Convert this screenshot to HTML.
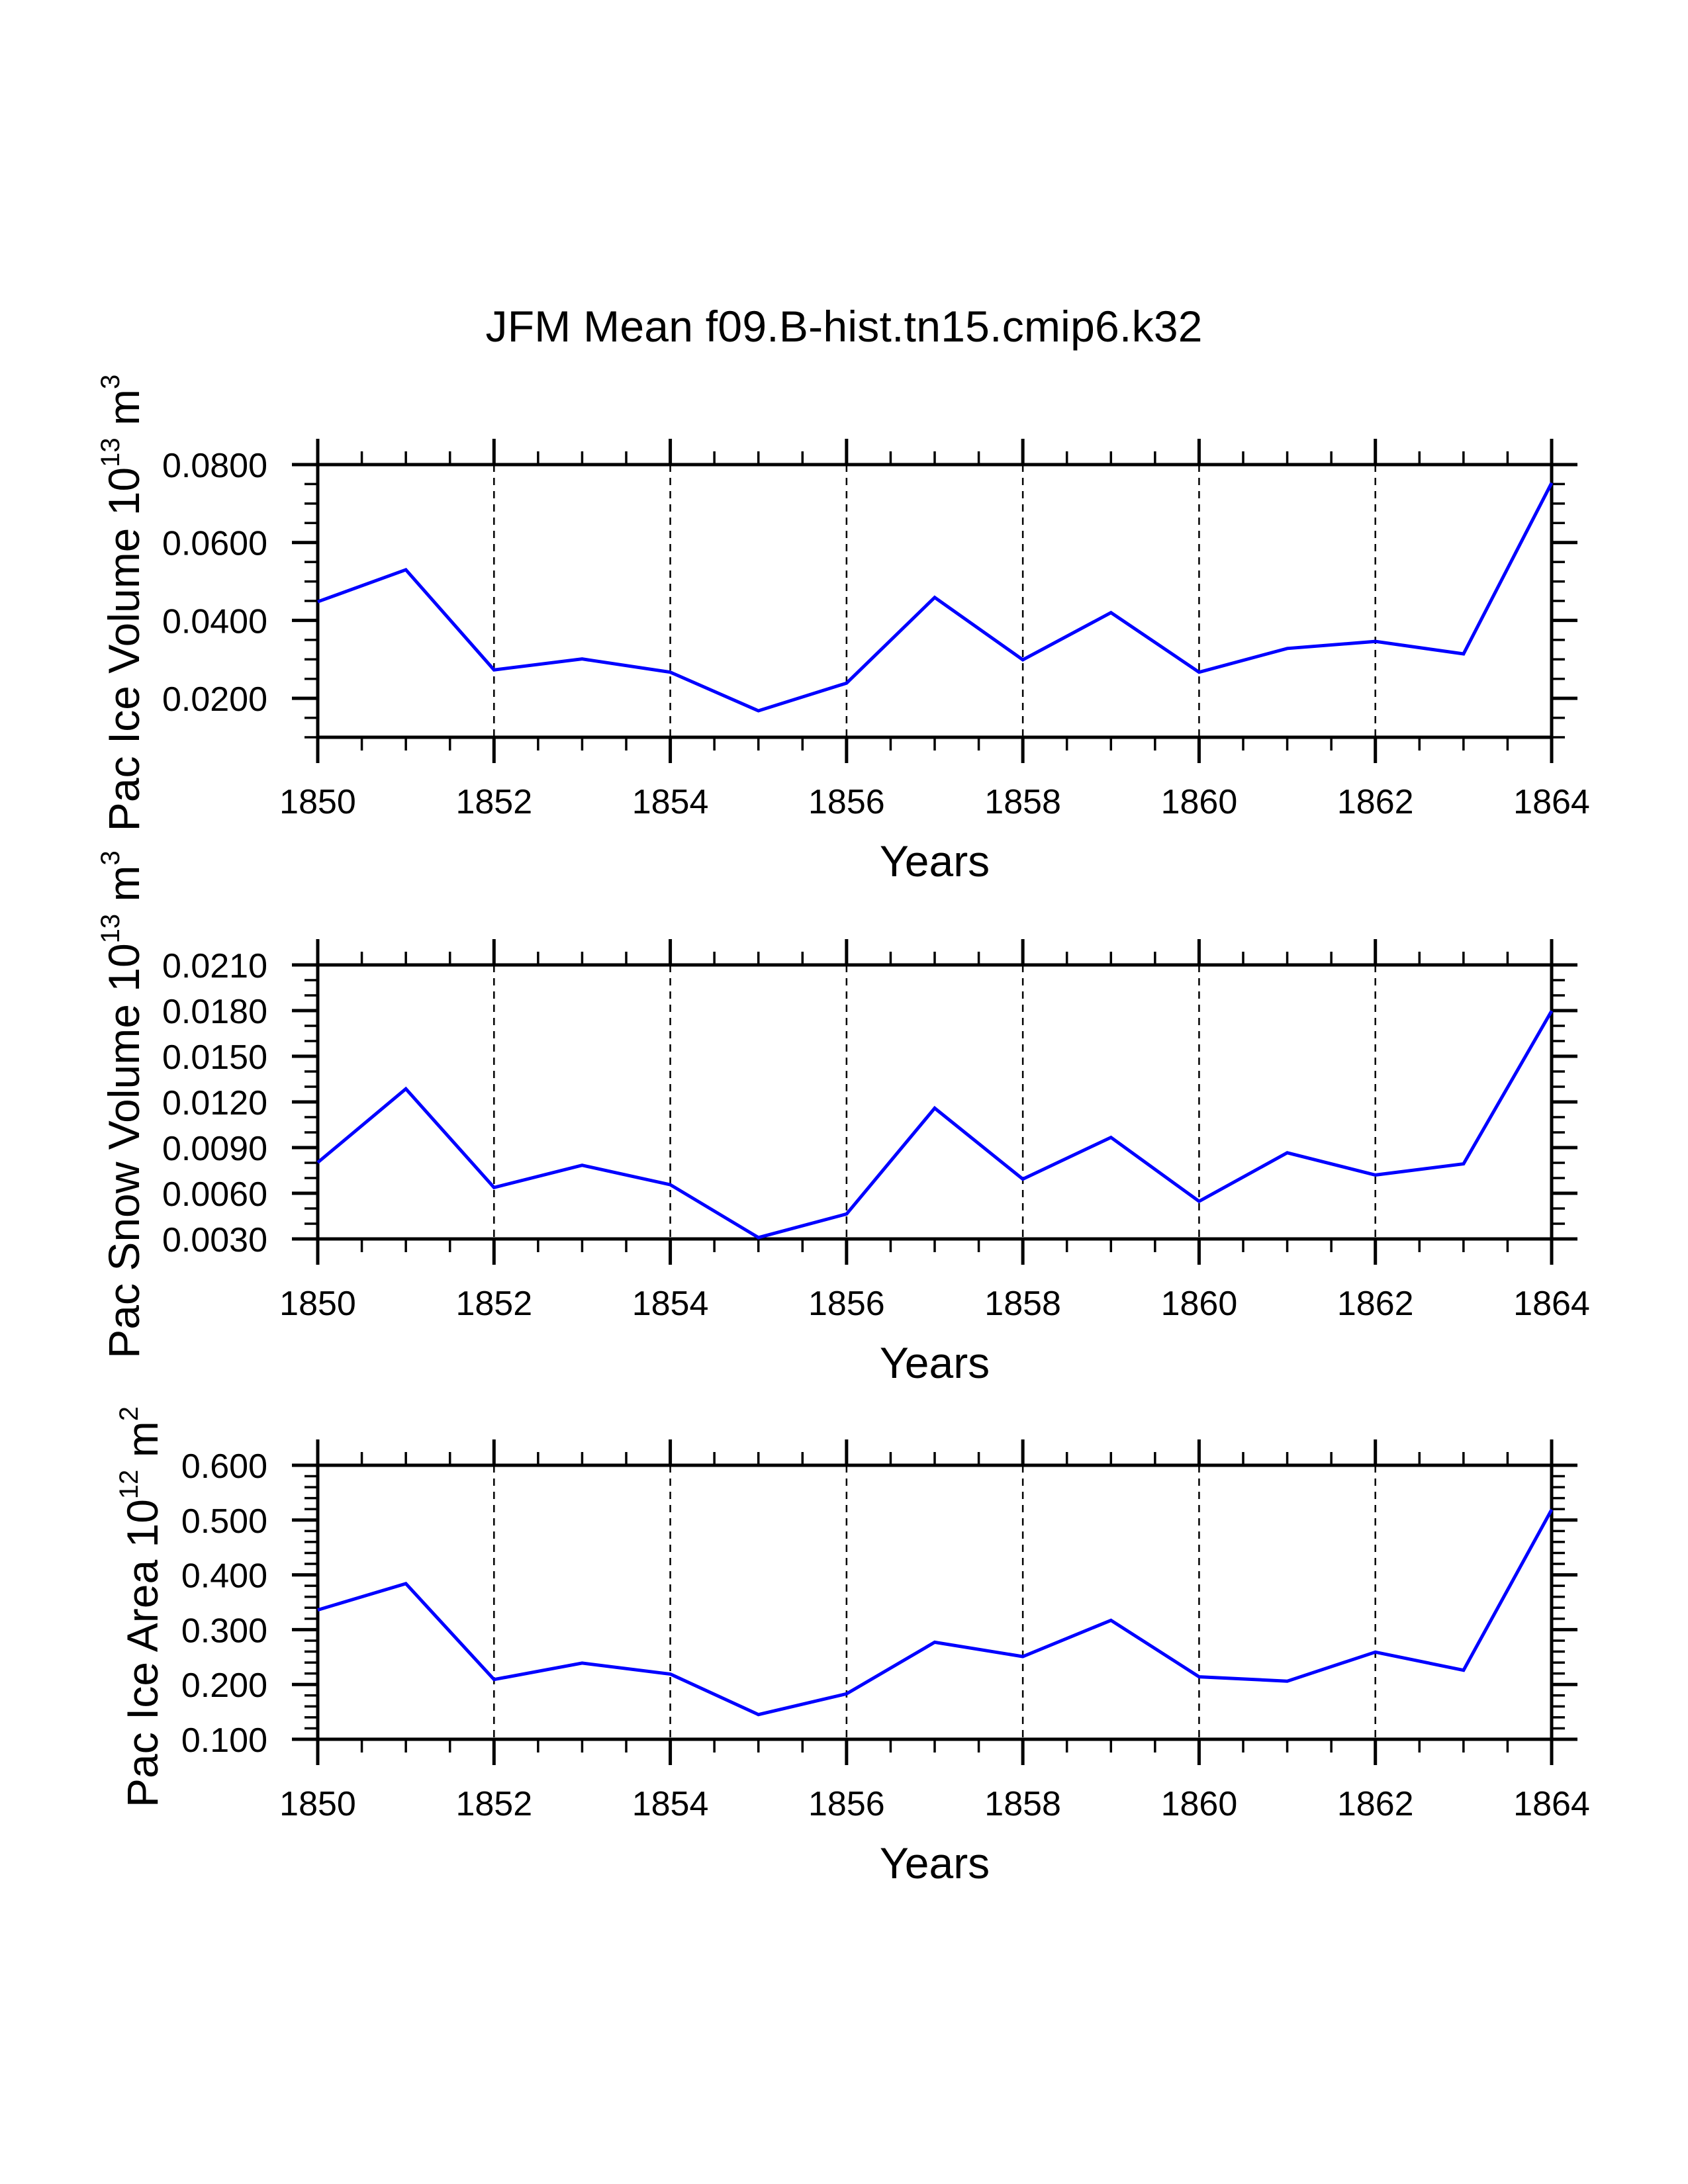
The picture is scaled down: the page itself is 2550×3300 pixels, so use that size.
<!DOCTYPE html>
<html><head><meta charset="utf-8"><style>
html,body{margin:0;padding:0;background:#fff;}
svg{display:block;font-family:"Liberation Sans",sans-serif;}
</style></head><body>
<svg id="fig" width="2550" height="3300" viewBox="0 0 2550 3300" xmlns="http://www.w3.org/2000/svg">
<rect width="2550" height="3300" fill="#fff"/>
<text x="1275" y="516" font-size="66" text-anchor="middle" textLength="1083">JFM Mean f09.B-hist.tn15.cmip6.k32</text>
</svg>
<script>
const years = [1850,1851,1852,1853,1854,1855,1856,1857,1858,1859,1860,1861,1862,1863,1864];
const xTickLabels = ["1850","1852","1854","1856","1858","1860","1862","1864"];
const iceVolume = [0.0448,0.0530,0.0273,0.0301,0.0267,0.0168,0.0239,0.0459,0.0299,0.0420,0.0267,0.0328,0.0346,0.0314,0.0753];
const snowVolume = [0.00802,0.01286,0.00638,0.00784,0.00656,0.00309,0.00464,0.01159,0.00693,0.00967,0.00547,0.00866,0.00720,0.00793,0.01798];
const iceArea = [0.336,0.384,0.209,0.239,0.219,0.145,0.183,0.277,0.251,0.317,0.214,0.206,0.259,0.226,0.519];
const iceVolumeTicks = ["0.0200","0.0400","0.0600","0.0800"];
const snowVolumeTicks = ["0.0030","0.0060","0.0090","0.0120","0.0150","0.0180","0.0210"];
const iceAreaTicks = ["0.100","0.200","0.300","0.400","0.500","0.600"];

const NS = "http://www.w3.org/2000/svg";
const svg = document.getElementById('fig');
function mk(tag, attrs, parent){
  const e = document.createElementNS(NS, tag);
  for (const k in attrs) e.setAttribute(k, attrs[k]);
  (parent||svg).appendChild(e);
  return e;
}
const X0 = 480, X1 = 2344, XMIN = 1850, XMAX = 1864;
function xScale(v){ return X0 + (v - XMIN) / (XMAX - XMIN) * (X1 - X0); }

function panel(cfg){
  const g = mk('g', {});
  
  
  const T = cfg.top, B = cfg.bottom;
  const yScale = v => B - (v - cfg.ymin) / (cfg.ymax - cfg.ymin) * (B - T);
  // grid lines
  for (let yr = 1852; yr <= 1862; yr += 2) {
    const l = mk('line', {x1:xScale(yr), x2:xScale(yr), y1:T, y2:B, stroke:'#000', 'stroke-width':2.5, 'stroke-dasharray':'11,9'}, g);
    
    
  }
  // x ticks
  for (let i = 0; i <= 28; i++) {
    const yr = XMIN + i * 0.5, x = xScale(yr);
    const major = (i % 4 === 0);
    const len = major ? 39 : 20;
    const w = major ? 5 : 3.5;
    const t1 = mk('line', {x1:x, x2:x, y1:B, y2:B+len, stroke:'#000', 'stroke-width':w}, g);
    
    
    const t2 = mk('line', {x1:x, x2:x, y1:T, y2:T-len, stroke:'#000', 'stroke-width':w}, g);
    
    
  }
  xTickLabels.forEach(lbl => {
    const t = mk('text', {x:xScale(+lbl), y:B+115, 'font-size':52, 'text-anchor':'middle'}, g);
    t.textContent = lbl;
    
    
  });
  // y ticks
  const nMinor = Math.round((cfg.ymax - cfg.ymin) / cfg.minor);
  for (let i = 0; i <= nMinor; i++) {
    const v = cfg.ymin + i * cfg.minor, y = yScale(v);
    const major = cfg.ticks.some(s => Math.abs(+s - v) < cfg.minor / 10);
    const len = major ? 39 : 20;
    const w = major ? 5 : 3.5;
    const a = mk('line', {x1:X0-len, x2:X0, y1:y, y2:y, stroke:'#000', 'stroke-width':w}, g);
    
    
    const b = mk('line', {x1:X1, x2:X1+len, y1:y, y2:y, stroke:'#000', 'stroke-width':w}, g);
    
    
  }
  cfg.ticks.forEach(lbl => {
    const t = mk('text', {x:404, y:yScale(+lbl)+19, 'font-size':52, 'text-anchor':'end'}, g);
    t.textContent = lbl;
    
    
  });
  // frame
  const fr = mk('rect', {x:X0, y:T, width:X1-X0, height:B-T, fill:'none', stroke:'#000', 'stroke-width':5}, g);
  
  
  // series
  const pts = years.map((yr, i) => xScale(yr).toFixed(1) + ',' + yScale(cfg.data[i]).toFixed(1)).join(' ');
  const pl = mk('polyline', {points:pts, fill:'none', stroke:'#0000ff', 'stroke-width':5, 'stroke-linejoin':'miter'}, g);
  
  
  // x title
  const xt = mk('text', {x:1412, y:B+210, 'font-size':66, 'text-anchor':'middle'}, g);
  xt.textContent = 'Years';
  
  
  // y title
  const yt = mk('text', {x:0, y:0, 'font-size':66, 'text-anchor':'middle', transform:'translate(' + cfg.ytx + ',' + cfg.ytc + ') rotate(-90)'}, g);
  
  
  const s1 = mk('tspan', {}, yt); s1.textContent = cfg.label + ' 10';
  const s2 = mk('tspan', {dy:-30, 'font-size':40}, yt); s2.textContent = cfg.exp;
  const s3 = mk('tspan', {dy:30}, yt); s3.textContent = ' m';
  const s4 = mk('tspan', {dy:-30, 'font-size':40}, yt); s4.textContent = cfg.unit;
}
panel({name:'ice-volume-panel', top:702, bottom:1114, ymin:0.01, ymax:0.08, minor:0.005, ticks:iceVolumeTicks, data:iceVolume, label:'Pac Ice Volume', exp:'13', unit:'3', ytx:210, ytc:911});
panel({name:'snow-volume-panel', top:1458, bottom:1872, ymin:0.003, ymax:0.021, minor:0.001, ticks:snowVolumeTicks, data:snowVolume, label:'Pac Snow Volume', exp:'13', unit:'3', ytx:210, ytc:1669});
panel({name:'ice-area-panel', top:2214, bottom:2628, ymin:0.1, ymax:0.6, minor:0.02, ticks:iceAreaTicks, data:iceArea, label:'Pac Ice Area', exp:'12', unit:'2', ytx:238, ytc:2428});
</script>
</body></html>
